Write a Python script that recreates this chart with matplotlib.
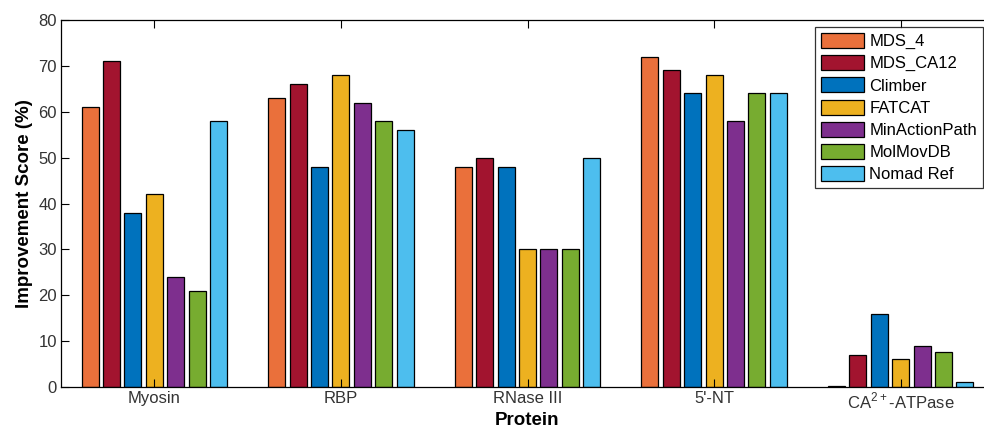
import matplotlib
matplotlib.use("Agg")
import matplotlib.pyplot as plt
import numpy as np

plt.rcParams['font.family'] = ['Liberation Sans', 'DejaVu Sans']

proteins = ['Myosin', 'RBP', 'RNase III', "5'-NT", r'CA$^{\mathregular{2+}}$-ATPase']
methods = ['MDS_4', 'MDS_CA12', 'Climber', 'FATCAT', 'MinActionPath', 'MolMovDB', 'Nomad Ref']
scores = [
    [61, 63, 48, 72, 0.3],   # MDS_4
    [71, 66, 50, 69, 7],     # MDS_CA12
    [38, 48, 48, 64, 16],    # Climber
    [42, 68, 30, 68, 6],     # FATCAT
    [24, 62, 30, 58, 9],     # MinActionPath
    [21, 58, 30, 64, 7.7],   # MolMovDB
    [58, 56, 50, 64, 1],     # Nomad Ref
]
colors = ['#EA703B', '#A2142F', '#0072BD', '#EDB120', '#7E2F8E', '#77AC30', '#4DBEEE']

fig = plt.figure(figsize=(9.84, 4.29), dpi=100)
# the original figure is cut on the right, so the axes run past the image edge
ax = fig.add_axes([61 / 984, 42 / 429, 933 / 984, 367 / 429])

x = np.arange(1, len(proteins) + 1)
slot = 0.1146
w = 0.091
for i, (m, vals) in enumerate(zip(methods, scores)):
    off = (i - 3) * slot
    ax.bar(x + off, vals, width=w, color=colors[i], edgecolor='black', linewidth=0.9,
           label=m)

ax.set_xlim(0.5, 5.5)
ax.set_ylim(0, 80)
ax.set_yticks(np.arange(0, 81, 10))
ax.set_xticks(x)
ax.set_xticklabels(proteins)
ax.tick_params(direction='in', top=True, right=True, length=6, width=0.8,
               labelsize=12, colors='black', labelcolor='#333333', pad=3)
for s in ax.spines.values():
    s.set_linewidth(0.9)
ax.set_ylabel('Improvement Score (%)', fontsize=13.5, fontweight='bold', labelpad=4)
ax.set_xlabel('Protein', fontsize=13.5, fontweight='bold', labelpad=0)

leg = ax.legend(loc='upper left', bbox_to_anchor=((815 - 61) / 933, 1 - 7 / 367),
                borderaxespad=0, fontsize=12, frameon=True, fancybox=False,
                edgecolor='black', handlelength=2.6, handleheight=1.0,
                handletextpad=0.3, labelspacing=0.36, borderpad=0.35)
leg.get_frame().set_linewidth(0.9)

fig.savefig('out.png', dpi=100)
